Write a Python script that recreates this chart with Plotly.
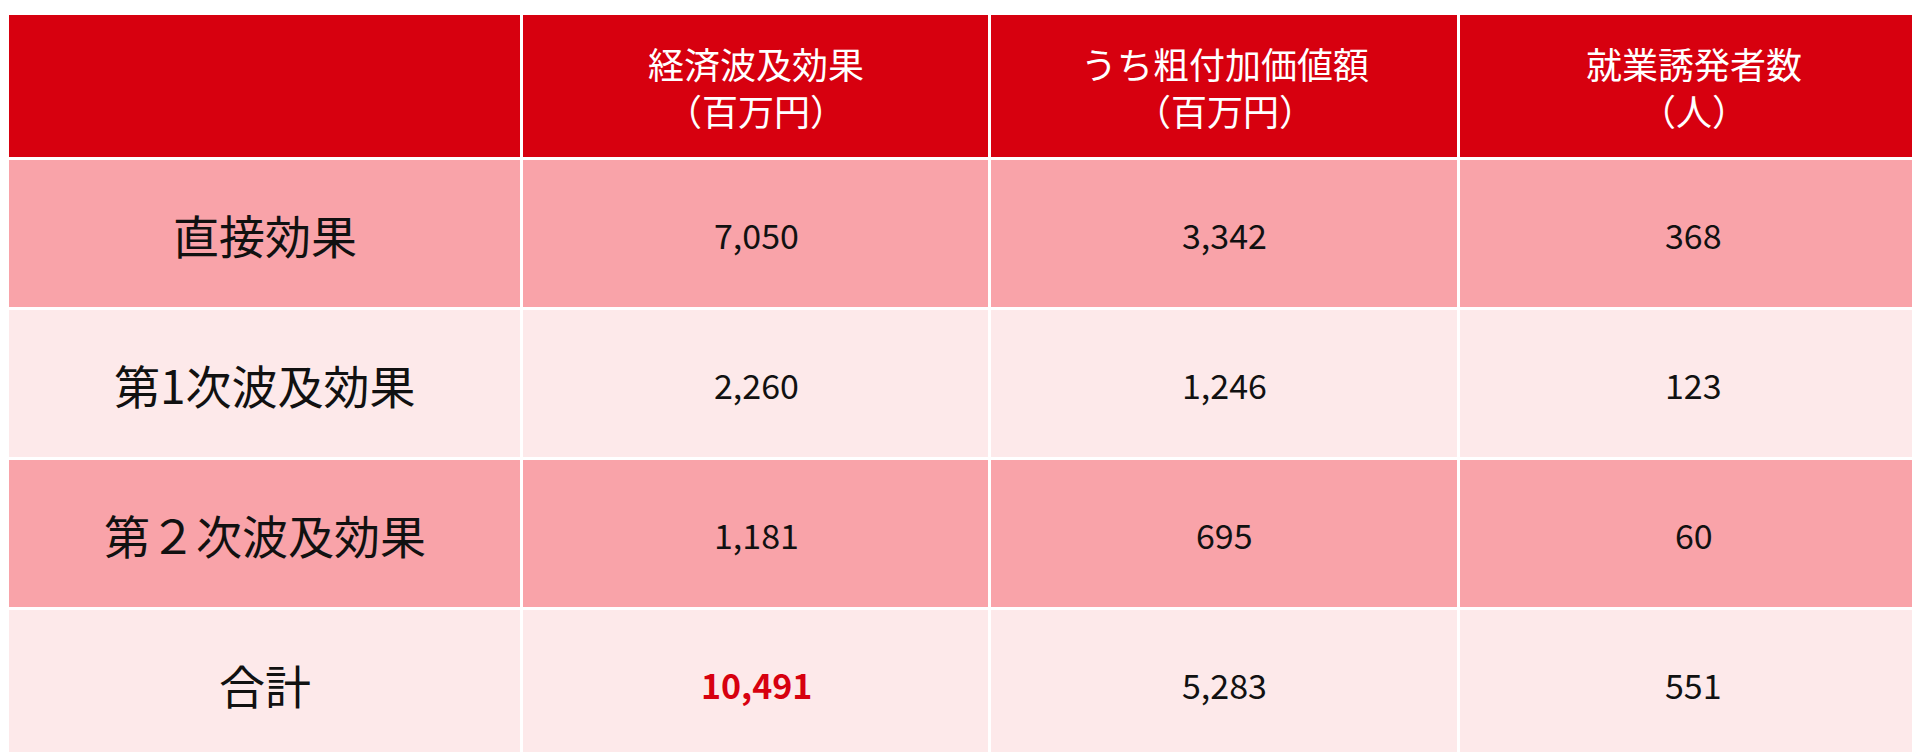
import plotly.graph_objects as go

headers = ["", "経済波及効果<br>（百万円）", "うち粗付加価値額<br>（百万円）", "就業誘発者数<br>（人）"]
row_labels = ["直接効果", "第1次波及効果", "第２次波及効果", "合計"]
economic = ["7,050", "2,260", "1,181", "10,491"]
value_added = ["3,342", "1,246", "695", "5,283"]
employment = ["368", "123", "60", "551"]

RED = "#d7000f"
PINK = "#f9a3a9"
LIGHT = "#fde9ea"
FONT = "Noto Sans CJK JP"

# cell edges on the axes (column widths and row heights)
x_edges = [0, 514, 982, 1451, 1920]
y_edges = [0, 145, 295, 445, 595, 745]

# colour code per row: 0 header, 1 pink, 2 light
row_code = [0, 1, 2, 1, 2]
z = [[c] * 4 for c in row_code]

fig = go.Figure(go.Heatmap(
    x=x_edges, y=y_edges, z=z,
    colorscale=[[0, RED], [0.5, PINK], [1, LIGHT]],
    zmin=0, zmax=2, showscale=False, hoverinfo="skip",
    xgap=3, ygap=3,
))

xc = [(a + b) / 2 for a, b in zip(x_edges[:-1], x_edges[1:])]
yc = [(a + b) / 2 for a, b in zip(y_edges[:-1], y_edges[1:])]

for j, h in enumerate(headers):
    if h:
        fig.add_annotation(x=xc[j], y=yc[0], text=h, showarrow=False,
                           font=dict(color="white", size=36, family=FONT))

columns = [row_labels, economic, value_added, employment]
for j, col in enumerate(columns):
    for i, v in enumerate(col):
        size = 46 if j == 0 else 34
        color = "#111111"
        text = v
        if j == 1 and i == 3:
            color = RED
            text = "<b>" + v + "</b>"
        fig.add_annotation(x=xc[j], y=yc[i + 1], text=text, showarrow=False,
                           font=dict(color=color, size=size, family=FONT))

fig.update_xaxes(range=[0, 1920], visible=False)
fig.update_yaxes(range=[752 - 6, -6], visible=False)
fig.update_layout(
    width=1920, height=752,
    margin=dict(l=0, r=0, t=0, b=0),
    paper_bgcolor="white", plot_bgcolor="white",
)

fig.write_html("out.html")
